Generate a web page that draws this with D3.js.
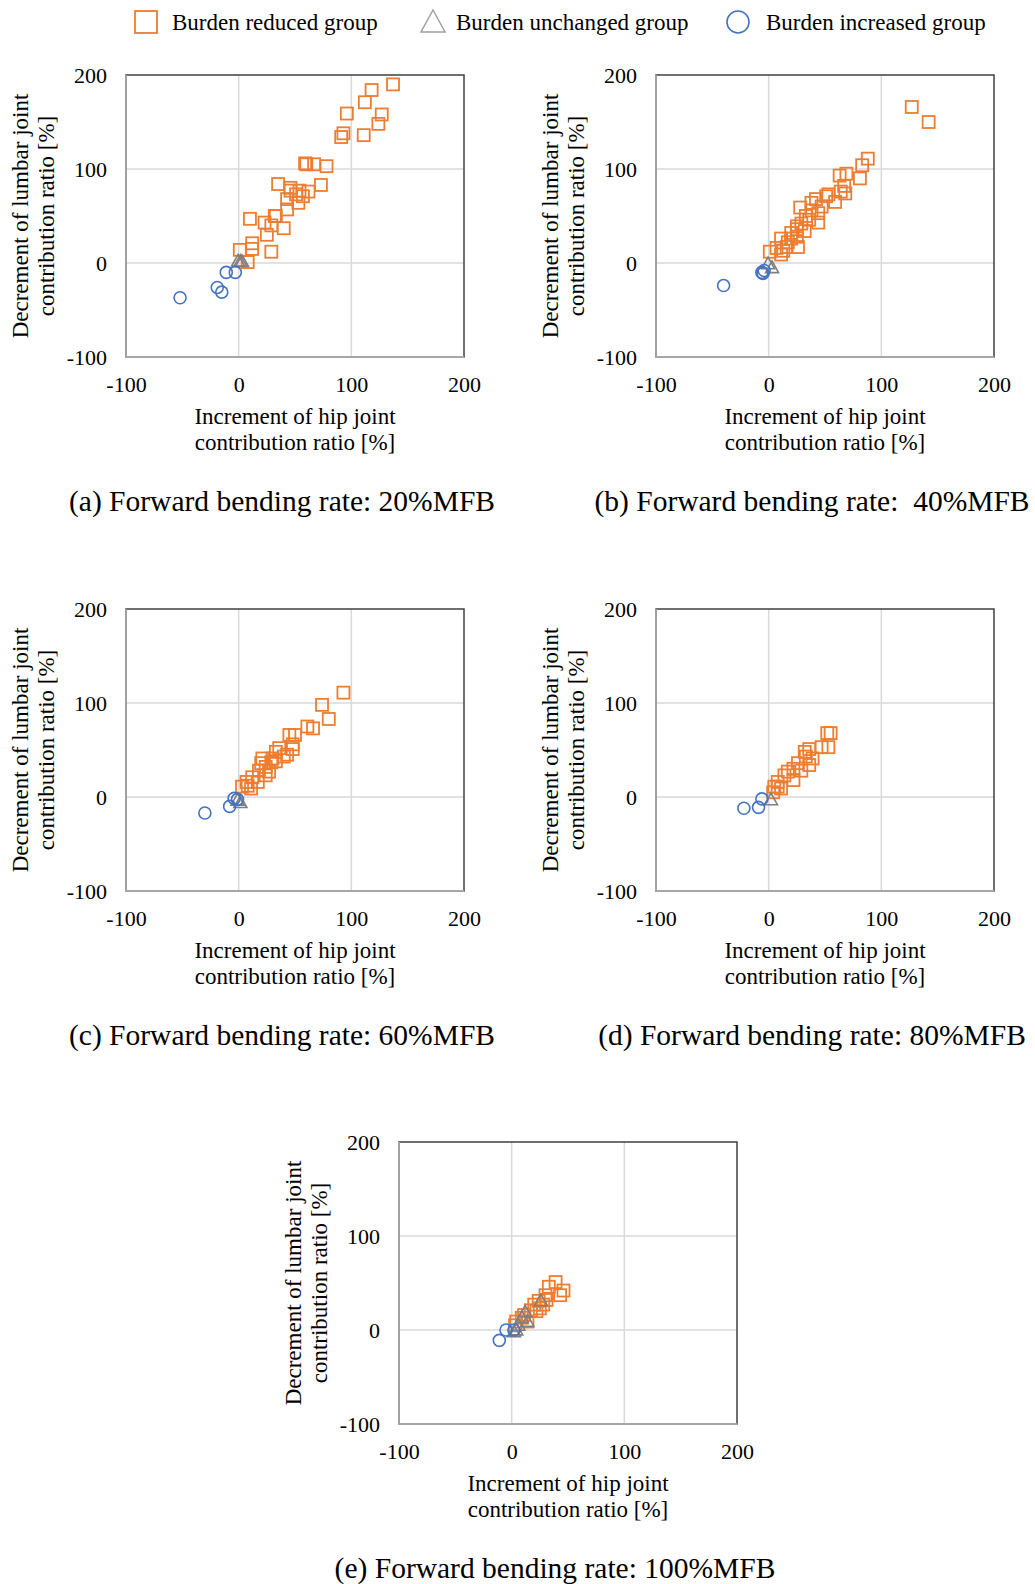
<!DOCTYPE html>
<html>
<head>
<meta charset="utf-8">
<script src="https://cdn.jsdelivr.net/npm/d3@7"></script>
<style>
body { margin: 0; background: #fff; }
text { font-family: "Liberation Serif", "Times New Roman", serif; fill: #000; }
</style>
</head>
<body>
<div id="chart"></div>
<script>
// Hip vs lumbar contribution ratio, five forward bending rates

//data
var groups = ["Burden reduced group", "Burden unchanged group", "Burden increased group"];
var captions = ["(a) Forward bending rate: 20%MFB", "(b) Forward bending rate:  40%MFB",
                "(c) Forward bending rate: 60%MFB", "(d) Forward bending rate: 80%MFB",
                "(e) Forward bending rate: 100%MFB"];
var ticks = [-100, 0, 100, 200];
var xTitle = ["Increment of hip joint", "contribution ratio [%]"];
var yTitle = ["Decrement of lumbar joint", "contribution ratio [%]"];

var reduced20 = [[137,190],[118,184],[112,171],[96,159],[127,158],[124,148],[93,138],[91,134],[111,136],
  [59,106],[60,105],[67,105],[78,103],[35,84],[73,83],[46,80],[54,77],[62,76],[51,73],[57,71],[43,68],
  [53,64],[43,57],[33,50],[10,47],[23,43],[29,40],[40,37],[25,30],[12,21],[12,15],[1,14],[29,12],[8,1],
  [32,50],[46,77]];
var unchanged20 = [[-0.5,2],[1.5,1.5],[3,1.5]];
var increased20 = [[-52,-37],[-19,-26],[-15,-31],[-11,-10],[-3,-10]];

var reduced40 = [[127,166],[142,150],[88,111],[83,104],[69,95],[63,93],[81,90],[67,82],[68,74],[53,73],
  [42,68],[59,65],[28,59],[47,60],[38,56],[44,53],[33,50],[44,43],[29,42],[25,36],[32,34],[20,32],[25,28],
  [11,26],[17,22],[26,17],[7,16],[13,13],[1,12],[11,9],[20,26],[36,46],[25,39],[38,64],[51,71],[64,76],[16,17]];
var unchanged40 = [[-0.5,-1],[3,-5]];
var increased40 = [[-40,-24],[-6,-10],[-4,-8],[-5,-11]];

var reduced60 = [[93,111],[74,98],[80,83],[61,75],[66,73],[45,66],[50,66],[48,56],[48,51],[36,52],[40,43],
  [33,48],[21,41],[29,37],[24,32],[18,28],[27,27],[12,21],[17,16],[7,16],[3,11],[11,9],[30,41],[43,45],
  [24,23],[8,12],[33,38],[20,36]];
var unchanged60 = [[-1,-3.5],[1.5,-6]];
var increased60 = [[-30,-17],[-8,-10],[-4,-1.5],[-1,-2.5]];

var reduced80 = [[52,68],[55,68],[53,53],[47,53],[36,51],[39,41],[33,43],[26,36],[36,34],[22,30],[29,28],
  [14,23],[22,18],[8,16],[5,11],[11,9],[4,5],[17,27],[32,48],[8,11]];
var unchanged80 = [[2,-3]];
var increased80 = [[-22,-12],[-9,-11],[-6,-2]];

var reduced100 = [[39,51],[46,42],[43,37],[33,46],[30,37],[24,31],[28,27],[20,27],[17,21],[22,20],[11,16],
  [9,13],[4,9],[14,9],[3,5],[25,23],[31,32]];
var unchanged100 = [[26,31],[12,19],[9,13],[6,5],[4,0],[2,-2],[14,9]];
var increased100 = [[-11,-11],[-5,0],[2,0]];

var panelData = [
  [reduced20, unchanged20, increased20],
  [reduced40, unchanged40, increased40],
  [reduced60, unchanged60, increased60],
  [reduced80, unchanged80, increased80],
  [reduced100, unchanged100, increased100]
];

// layout
var colors = ["#ED7D31", "#7F7F7F", "#4472C4"];
var W = 1035, H = 1584;
var w = 338, h = 282;
var origins = [[126, 75], [656, 75], [126, 609], [656, 609], [399, 1142]]; // plot top-left

var svg = d3.select("#chart").append("svg")
    .attr("width", W)
    .attr("height", H);

function triPath(s) {
  // s = half width
  return "M0," + (-s * 1.05) + "L" + s + "," + (s * 0.75) + "L" + (-s) + "," + (s * 0.75) + "Z";
}

function drawMarker(g, type, size) {
  if (type == 0) {
    g.append("rect").attr("x", -size).attr("y", -size)
      .attr("width", size * 2).attr("height", size * 2)
      .attr("fill", "none").attr("stroke", colors[0]).attr("stroke-width", 1.8);
  } else if (type == 1) {
    g.append("path").attr("d", triPath(size + 0.5))
      .attr("fill", "none").attr("stroke", colors[1]).attr("stroke-width", 1.6);
  } else {
    g.append("circle").attr("r", size)
      .attr("fill", "none").attr("stroke", colors[2]).attr("stroke-width", 1.6);
  }
}

// legend
var legendX = [[146, 172], [433, 456], [738, 766]];
groups.forEach(function(name, i) {
  var lg = svg.append("g").attr("transform", "translate(" + legendX[i][0] + ",22)");
  if (i == 0) drawMarker(lg, 0, 11);
  else if (i == 1) {
    lg.append("path").attr("d", "M0,-12L12,10L-12,10Z")
      .attr("fill", "none").attr("stroke", "#A0A0A0").attr("stroke-width", 1.5);
  } else drawMarker(lg, 2, 11);
  svg.append("text")
    .attr("x", legendX[i][1])
    .attr("y", 30)
    .style("font-size", "23px")
    .text(name);
});

var x = d3.scaleLinear().domain([-100, 200]).range([0, w]);
var y = d3.scaleLinear().domain([-100, 200]).range([h, 0]);
var fmt = function(d) { return String(d); }; // plain hyphen minus like the source

panelData.forEach(function(series, p) {
  var g = svg.append("g")
      .attr("transform", "translate(" + origins[p][0] + "," + origins[p][1] + ")");

  // grid
  g.append("g").selectAll("line")
    .data([0, 100])
    .enter().append("line")
    .attr("x1", function(d) { return x(d); })
    .attr("x2", function(d) { return x(d); })
    .attr("y1", 0).attr("y2", h)
    .attr("stroke", "#D9D9D9").attr("stroke-width", 1.5);
  g.append("g").selectAll("line")
    .data([0, 100])
    .enter().append("line")
    .attr("y1", function(d) { return y(d); })
    .attr("y2", function(d) { return y(d); })
    .attr("x1", 0).attr("x2", w)
    .attr("stroke", "#D9D9D9").attr("stroke-width", 1.5);

  // plot border
  g.append("rect")
    .attr("width", w).attr("height", h)
    .attr("fill", "none").attr("stroke", "#404040").attr("stroke-width", 1.5);
  g.append("path")
    .attr("d", "M0,0V" + h + "H" + w)
    .attr("fill", "none").attr("stroke", "#A6A6A6").attr("stroke-width", 1.8);

  // axes
  var xAxis = g.append("g")
    .attr("transform", "translate(0," + h + ")")
    .call(d3.axisBottom(x).tickValues(ticks).tickFormat(fmt).tickSize(0).tickPadding(28));
  xAxis.attr("font-family", null).attr("font-size", null);
  xAxis.select(".domain").remove();
  xAxis.selectAll("text").style("font-size", "22px").attr("dy", 0).attr("y", 35);

  var yAxis = g.append("g")
    .call(d3.axisLeft(y).tickValues(ticks).tickFormat(fmt).tickSize(0).tickPadding(19));
  yAxis.attr("font-family", null).attr("font-size", null);
  yAxis.select(".domain").remove();
  yAxis.selectAll("text").style("font-size", "22px").attr("dy", "0.34em");

  // titles
  xTitle.forEach(function(t, i) {
    g.append("text")
      .attr("x", w / 2)
      .attr("y", h + 67 + i * 25.5)
      .attr("text-anchor", "middle")
      .style("font-size", "23px")
      .text(t);
  });
  yTitle.forEach(function(t, i) {
    g.append("text")
      .attr("transform", "translate(" + (-98 + i * 26) + "," + (h / 2) + ") rotate(-90)")
      .attr("text-anchor", "middle")
      .style("font-size", "23px")
      .text(t);
  });

  g.append("text")
    .attr("x", w / 2 - 13)
    .attr("y", h + 154)
    .attr("text-anchor", "middle")
    .style("font-size", "29.5px")
    .style("white-space", "pre")
    .text(captions[p]);

  // points
  series.forEach(function(pts, s) {
    g.append("g").selectAll("g")
      .data(pts)
      .enter().append("g")
      .attr("transform", function(d) { return "translate(" + x(d[0]) + "," + y(d[1]) + ")"; })
      .each(function() { drawMarker(d3.select(this), s, 6); });
  });
});
</script>
</body>
</html>
